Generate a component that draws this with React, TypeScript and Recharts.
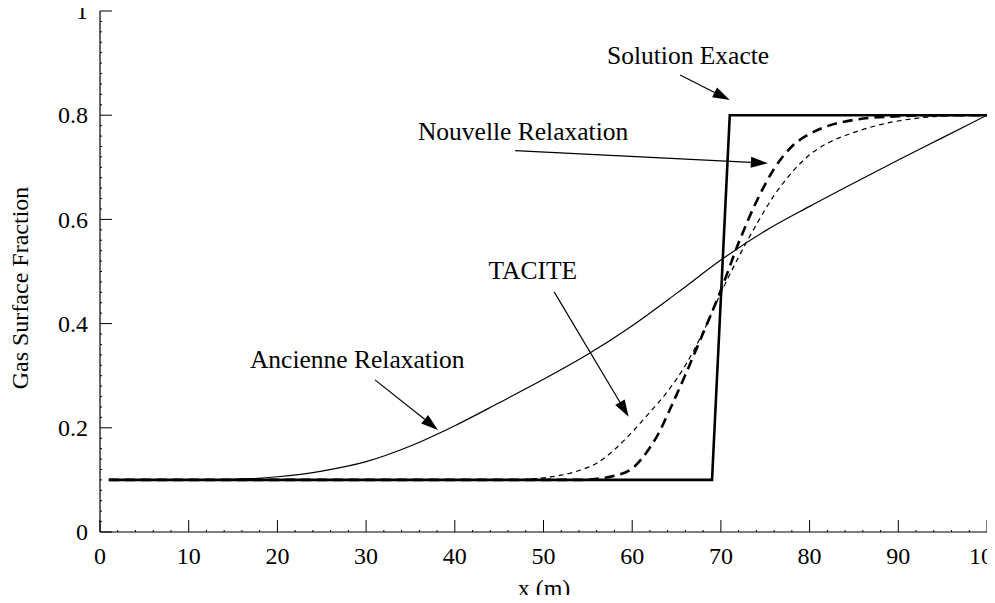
import React from "react";
import { LineChart, Line, XAxis, YAxis, ReferenceLine, ReferenceDot } from "recharts";

// axis ticks
const X_MAJOR = [0, 10, 20, 30, 40, 50, 60, 70, 80, 90, 100];
const X_MINOR = Array.from({ length: 51 }, (_, i) => i * 2);
const Y_MINOR = Array.from({ length: 51 }, (_, i) => Math.round(i * 2) / 100);

// series, [x, fraction]
const EXACTE: [number, number][] = [
  [1, 0.1], [69, 0.1], [71, 0.8], [100, 0.8],
];
const NOUVELLE: [number, number][] = [
  [1, 0.1], [30, 0.1], [50, 0.1], [54, 0.1], [56, 0.102], [58, 0.108], [60, 0.122],
  [62, 0.162], [63, 0.19], [64, 0.226], [66, 0.302], [68, 0.382], [70, 0.464],
  [72, 0.555], [74, 0.634], [76, 0.697], [78, 0.74], [80, 0.764], [82, 0.779],
  [85, 0.791], [90, 0.798], [95, 0.8], [100, 0.8],
];
const TACITE: [number, number][] = [
  [1, 0.1], [30, 0.1], [46, 0.1], [50, 0.104], [52, 0.109], [54, 0.118], [56, 0.132],
  [58, 0.158], [60, 0.192], [62, 0.23], [64, 0.27], [66, 0.32], [68, 0.384],
  [70, 0.459], [72, 0.528], [74, 0.59], [76, 0.646], [78, 0.69], [80, 0.724],
  [82, 0.746], [85, 0.767], [88, 0.782], [92, 0.794], [96, 0.799], [100, 0.8],
];
const ANCIENNE: [number, number][] = [
  [1, 0.1], [10, 0.1], [15, 0.101], [20, 0.106], [25, 0.117], [30, 0.135], [35, 0.165],
  [40, 0.204], [45, 0.248], [50, 0.293], [55, 0.341], [60, 0.396], [65, 0.458],
  [70, 0.522], [75, 0.578], [80, 0.625], [85, 0.67], [90, 0.714], [95, 0.757],
  [100, 0.8],
];

// annotations: text position, arrow start, arrow tip
const NOTES = [
  { text: "Solution Exacte", at: [66.3, 0.914], from: [65.4, 0.877], to: [71.0, 0.829] },
  { text: "Nouvelle Relaxation", at: [47.7, 0.769], from: [46.8, 0.732], to: [75.3, 0.708] },
  { text: "TACITE", at: [48.8, 0.503], from: [51.2, 0.461], to: [59.6, 0.221] },
  { text: "Ancienne Relaxation", at: [29.0, 0.332], from: [31.0, 0.292], to: [38.1, 0.196] },
];

const toPts = (arr: [number, number][]) => arr.map(([x, y]) => ({ x, y }));

const FONT = '"Liberation Serif", "Times New Roman", serif';
const FS = 24;
const NOTE_FS = 25.5;

const isMajorX = (v: number) => X_MAJOR.includes(v);
const isMajorY = (v: number) => Math.abs(v * 5 - Math.round(v * 5)) < 1e-6;

const BottomTick = ({ x, y, payload }: any) => {
  const major = isMajorX(payload.value);
  return (
    <g>
      <line x1={x} y1={y} x2={x} y2={y - (major ? 12 : 2)} stroke="#000" strokeWidth={1} />
      {major && (
        <text x={x} y={y + 32} textAnchor="middle" fontSize={FS} fontFamily={FONT} fill="#000">
          {payload.value}
        </text>
      )}
    </g>
  );
};

const TopTick = ({ x, y, payload }: any) => (
  <line x1={x} y1={y} x2={x} y2={y + (isMajorX(payload.value) ? 12 : 2)} stroke="#000" strokeWidth={1} />
);

const LeftTick = ({ x, y, payload }: any) => {
  const major = isMajorY(payload.value);
  return (
    <g>
      <line x1={x} y1={y} x2={x + (major ? 12 : 2)} y2={y} stroke="#000" strokeWidth={1} />
      {major && (
        <text x={x - 12} y={y} dy="0.34em" textAnchor="end" fontSize={FS} fontFamily={FONT} fill="#000">
          {String(Math.round(payload.value * 10) / 10)}
        </text>
      )}
    </g>
  );
};

const RightTick = ({ x, y, payload }: any) => (
  <line x1={x} y1={y} x2={x - (isMajorY(payload.value) ? 12 : 2)} y2={y} stroke="#000" strokeWidth={1} />
);

const Arrow = (p: any) => {
  const { x1, y1, x2, y2 } = p;
  const a = Math.atan2(y2 - y1, x2 - x1);
  const L = 17;
  const W = 5.5;
  const bx = x2 - L * Math.cos(a);
  const by = y2 - L * Math.sin(a);
  const pts = `${x2},${y2} ${bx + W * Math.sin(a)},${by - W * Math.cos(a)} ${bx - W * Math.sin(a)},${by + W * Math.cos(a)}`;
  return (
    <g>
      <line x1={x1} y1={y1} x2={bx} y2={by} stroke="#000" strokeWidth={1.2} />
      <polygon points={pts} fill="#000" />
    </g>
  );
};

const App = () => {
  return (
    <div style={{ margin: -8, width: 995, height: 603, overflow: "hidden" }}>
      <LineChart
        width={995}
        height={603}
        margin={{ top: 11, right: 8, bottom: 0, left: 0 }}
        style={{ fontFamily: FONT }}
      >
        <XAxis
          xAxisId="top"
          orientation="top"
          type="number"
          domain={[0, 100]}
          ticks={X_MINOR}
          interval={0}
          height={0}
          tickSize={0}
          tickMargin={0}
          tick={TopTick}
          tickLine={false}
          axisLine={{ stroke: "#000", strokeWidth: 1.2 }}
        />
        <XAxis
          dataKey="x"
          type="number"
          domain={[0, 100]}
          ticks={X_MINOR}
          interval={0}
          height={71}
          tickSize={0}
          tickMargin={0}
          tick={BottomTick}
          tickLine={false}
          axisLine={{ stroke: "#000", strokeWidth: 1.2 }}
          allowDataOverflow
        />
        <YAxis
          type="number"
          domain={[0, 1]}
          ticks={Y_MINOR}
          interval={0}
          width={100}
          tickSize={0}
          tickMargin={0}
          tick={LeftTick}
          tickLine={false}
          axisLine={{ stroke: "#000", strokeWidth: 1.2 }}
          allowDataOverflow
          label={{
            content: () => (
              <text
                transform="translate(28, 288) rotate(-90)"
                textAnchor="middle"
                fontSize={FS}
                fontFamily={FONT}
                fill="#000"
              >
                Gas Surface Fraction
              </text>
            ),
          }}
        />
        <YAxis
          yAxisId="right"
          orientation="right"
          type="number"
          domain={[0, 1]}
          ticks={Y_MINOR}
          interval={0}
          width={0}
          tickSize={0}
          tickMargin={0}
          tick={RightTick}
          tickLine={false}
          axisLine={{ stroke: "#000", strokeWidth: 1.2 }}
        />

        <Line
          data={toPts(ANCIENNE)}
          dataKey="y"
          type="monotone"
          stroke="#000"
          strokeWidth={1.2}
          dot={false}
          activeDot={false}
          isAnimationActive={false}
        />
        <Line
          data={toPts(TACITE)}
          dataKey="y"
          type="monotone"
          stroke="#000"
          strokeWidth={1.2}
          strokeDasharray="5 4"
          dot={false}
          activeDot={false}
          isAnimationActive={false}
        />
        <Line
          data={toPts(NOUVELLE)}
          dataKey="y"
          type="monotone"
          stroke="#000"
          strokeWidth={2.6}
          strokeDasharray="10 6"
          dot={false}
          activeDot={false}
          isAnimationActive={false}
        />
        <Line
          data={toPts(EXACTE)}
          dataKey="y"
          type="linear"
          stroke="#000"
          strokeWidth={2.6}
          dot={false}
          activeDot={false}
          isAnimationActive={false}
        />

        {NOTES.map((n) => (
          <ReferenceLine
            key={`arrow-${n.text}`}
            segment={[
              { x: n.from[0], y: n.from[1] },
              { x: n.to[0], y: n.to[1] },
            ]}
            shape={Arrow}
          />
        ))}
        {NOTES.map((n) => (
          <ReferenceDot
            key={`note-${n.text}`}
            x={n.at[0]}
            y={n.at[1]}
            r={0}
            shape={(p: any) => (
              <text
                x={p.cx}
                y={p.cy}
                dy="0.34em"
                textAnchor="middle"
                fontSize={NOTE_FS}
                fontFamily={FONT}
                fill="#000"
              >
                {n.text}
              </text>
            )}
          />
        ))}

        <text x={544} y={596} textAnchor="middle" fontSize={FS} fontFamily={FONT} fill="#000">
          x (m)
        </text>
      </LineChart>
    </div>
  );
};

export default App;
